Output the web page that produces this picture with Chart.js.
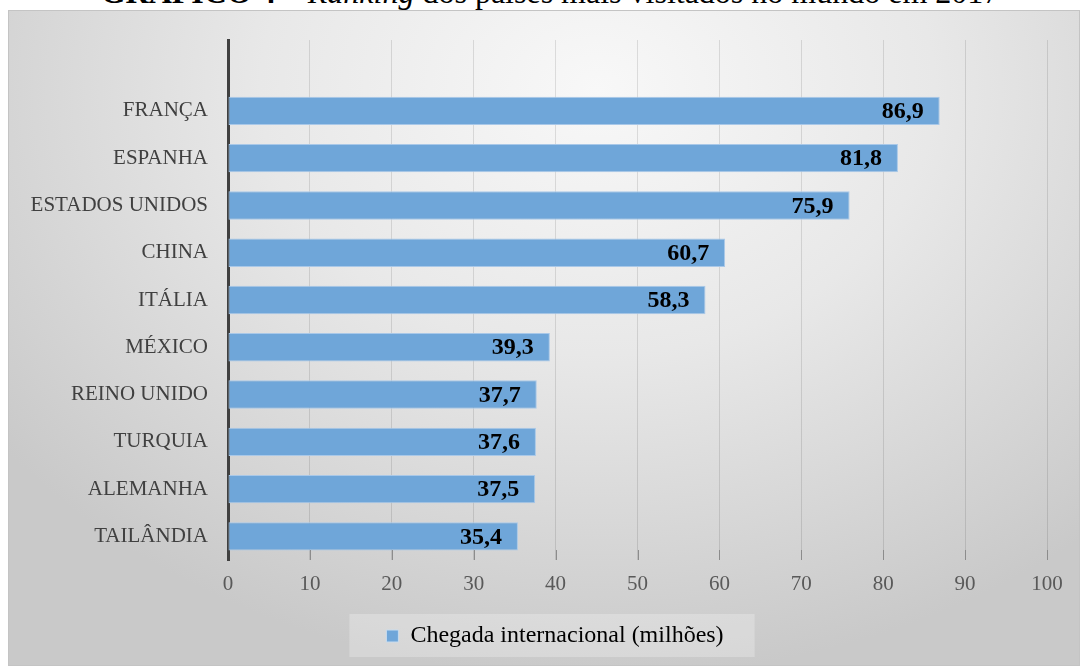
<!DOCTYPE html>
<html>
<head>
<meta charset="utf-8">
<title>Ranking dos países mais visitados no mundo em 2017</title>
<script src="https://cdn.jsdelivr.net/npm/chart.js@4/dist/chart.umd.min.js"></script>
<style>
  body { margin: 0; background: #ffffff; width: 1080px; height: 666px; overflow: hidden; position: relative; }
  #title {
    position: absolute; left: 0; top: -24px; width: 1100px; text-align: center;
    font-family: "Liberation Serif", "Times New Roman", serif; font-size: 32px; line-height: 32px; color: #000;
    white-space: nowrap;
  }
  #box {
    position: absolute; left: 8px; top: 10px; width: 1072px; height: 656px;
    box-sizing: border-box; border: 1px solid #c4c4c4;
    background: radial-gradient(ellipse 70% 90% at 55% 12%, #f8f8f8 0%, #e8e8e8 45%, #c9c9c9 100%);
  }
</style>
</head>
<body>
<div id="title"><b>GRÁFICO 4</b> – <i>Ranking</i> dos países mais visitados no mundo em 2017</div>
<div id="box"><canvas id="chart" width="1070" height="654"></canvas></div>
<script>
  // data (the empty first category keeps Excel's blank slot at the top)
  const countries = ['', 'FRANÇA', 'ESPANHA', 'ESTADOS UNIDOS', 'CHINA', 'ITÁLIA', 'MÉXICO', 'REINO UNIDO', 'TURQUIA', 'ALEMANHA', 'TAILÂNDIA'];
  const arrivals = [null, 86.9, 81.8, 75.9, 60.7, 58.3, 39.3, 37.7, 37.6, 37.5, 35.4];
  const seriesName = 'Chegada internacional (milhões)';
  const xTicks = [0, 10, 20, 30, 40, 50, 60, 70, 80, 90, 100];

  const serif = '"Liberation Serif", "Times New Roman", serif';

  // value labels inside the end of each bar
  const barLabels = {
    id: 'barLabels',
    afterDatasetsDraw(chart) {
      const ctx = chart.ctx;
      const meta = chart.getDatasetMeta(0);
      ctx.save();
      ctx.font = 'bold 24px ' + serif;
      ctx.fillStyle = '#000';
      ctx.textAlign = 'right';
      ctx.textBaseline = 'middle';
      meta.data.forEach((bar, i) => {
        const v = arrivals[i];
        if (v === null) return;
        ctx.fillText(v.toFixed(1).replace('.', ','), bar.x - 16, bar.y + 1);
      });
      ctx.restore();
    }
  };

  // short tick marks pointing into the plot at the bottom
  const innerTicks = {
    id: 'innerTicks',
    afterDraw(chart) {
      const ctx = chart.ctx;
      const x = chart.scales.x;
      const bottom = chart.chartArea.bottom;
      ctx.save();
      ctx.strokeStyle = '#8c8c8c';
      ctx.lineWidth = 1;
      xTicks.forEach(t => {
        if (t === 0) return;
        const px = Math.round(x.getPixelForValue(t)) + 0.5;
        ctx.beginPath();
        ctx.moveTo(px, bottom - 10);
        ctx.lineTo(px, bottom);
        ctx.stroke();
      });
      ctx.restore();
    }
  };

  // nudge the legend a bit to the right, like the original
  const legendShift = {
    id: 'legendShift',
    afterLayout(chart) {
      chart.legend.left += 27;
      chart.legend.right += 27;
    }
  };

  // light box behind the legend
  const legendBox = {
    id: 'legendBox',
    beforeDraw(chart) {
      const lg = chart.legend;
      if (!lg || !lg.legendHitBoxes.length) return;
      const hb = lg.legendHitBoxes[0];
      const ctx = chart.ctx;
      ctx.save();
      ctx.fillStyle = 'rgba(255,255,255,0.25)';
      ctx.fillRect(hb.left - 37, lg.top, hb.width + 68, 43);
      ctx.restore();
    }
  };

  const ctx = document.getElementById('chart').getContext('2d');
  const chart = new Chart(ctx, {
    type: 'bar',
    data: {
      labels: countries,
      datasets: [{
        label: seriesName,
        data: arrivals,
        backgroundColor: '#6fa6d9',
        borderColor: '#a9c8e8',
        borderWidth: 1,
        borderSkipped: false,
        barPercentage: 0.6,
        categoryPercentage: 1
      }]
    },
    options: {
      indexAxis: 'y',
      responsive: false,
      animation: false,
      layout: { padding: { top: 29, right: 32, bottom: 7, left: 0 } },
      scales: {
        x: {
          min: 0,
          max: 100,
          afterBuildTicks: scale => { scale.ticks = xTicks.map(v => ({ value: v })); },
          afterFit: scale => { scale.height = 54; },
          grid: { color: 'rgba(0,0,0,0.11)', drawTicks: false },
          border: { display: false },
          ticks: { padding: 12, color: '#595959', font: { family: serif, size: 21 } }
        },
        y: {
          afterFit: scale => {
            scale.width = 219;
            scale.paddingTop = 0;
            scale.paddingBottom = 0;
          },
          grid: { display: false, drawTicks: false },
          border: { color: '#404040', width: 3 },
          ticks: { padding: 20, color: '#404040', font: { family: serif, size: 21 } }
        }
      },
      plugins: {
        legend: {
          position: 'bottom',
          labels: {
            boxWidth: 12,
            boxHeight: 12,
            padding: 10,
            color: '#404040',
            font: { family: serif, size: 24 },
            generateLabels: c => [{
              text: seriesName,
              fillStyle: '#6fa6d9',
              strokeStyle: '#c8dcef',
              lineWidth: 1,
              datasetIndex: 0
            }]
          }
        },
        tooltip: { enabled: false }
      }
    },
    plugins: [legendShift, legendBox, barLabels, innerTicks]
  });
</script>
</body>
</html>
